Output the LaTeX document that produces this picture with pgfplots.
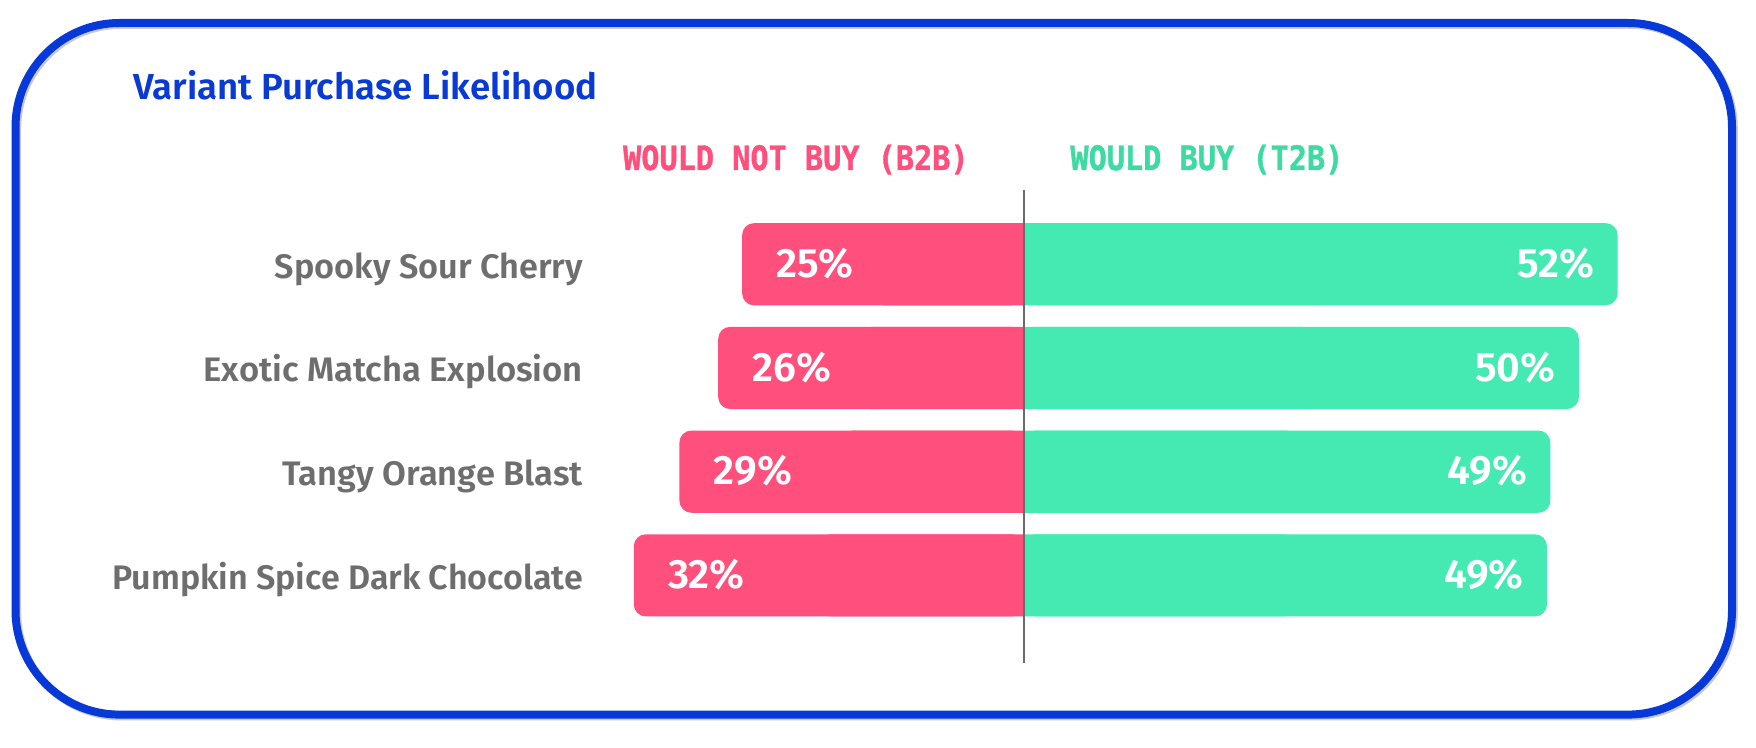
\documentclass[border=0pt]{standalone}
\usepackage{pgfplots}
\pgfplotsset{compat=1.18}
\usepackage{pgfplotstable}
\usepackage{graphicx}
\usepackage{fontspec}
\setmainfont{Fira Sans}
\newfontfamily\sbfont{Fira Sans SemiBold}
\newfontfamily\hdfont{DejaVu Sans Mono Bold}[FakeBold=1.2]

\definecolor{cardblue}{HTML}{0639D8}
\definecolor{titleblue}{HTML}{0A3AD4}
\definecolor{pinkbar}{HTML}{FF4F7C}
\definecolor{greenbar}{HTML}{45EAB3}
\definecolor{greentext}{HTML}{3DDBA2}
\definecolor{labelgray}{HTML}{6E6E6E}
\definecolor{linegray}{HTML}{6A6A6A}

% text squeezed or stretched to a given width, height kept
\newcommand\fitw[2]{\resizebox{#1}{\height}{#2}}

% bar lengths (11.4 px = 1 unit), printed labels beside
\pgfplotstableread{
idx nb    b    nbl bl
0   -24.7 52.1 25  52
1   -26.8 48.7 26  50
2   -30.2 46.2 29  49
3   -34.2 45.9 32  49
}\likely

\begin{document}
\begin{tikzpicture}
% card
\draw[black!60, opacity=0.35, line width=4pt, rounded corners=52pt]
  (8.6pt,-12.4pt) rectangle (866.9pt,-358.2pt);
\draw[cardblue, line width=4pt, rounded corners=52pt]
  (7.75pt,-11.5pt) rectangle (866pt,-357.3pt);

\node[anchor=base west, inner sep=0pt, text=titleblue] at (66.5pt,-50pt)
  {\fitw{232pt}{\sbfont\fontsize{18.1}{20}\selectfont Variant Purchase Likelihood}};
\node[anchor=base west, inner sep=0pt, text=pinkbar] at (311.35pt,-85pt)
  {\fitw{172.8pt}{\hdfont\fontsize{16.8}{18}\selectfont WOULD NOT BUY (B2B)}};
\node[anchor=base west, inner sep=0pt, text=greentext] at (535pt,-85pt)
  {\fitw{136.5pt}{\hdfont\fontsize{16.8}{18}\selectfont WOULD BUY (T2B)}};

\begin{axis}[
  at={(283.85pt,-106.2pt)}, anchor=north west,
  scale only axis, width=570pt, height=207.4pt,
  xmin=-40, xmax=60, ymin=-0.5, ymax=3.5,
  y dir=reverse, enlargelimits=false, clip=false,
  xbar, bar width=41.1pt, bar shift=0pt,
  axis line style={draw=none}, major tick length=0pt,
  xtick=\empty,
  ytick={0,1,2,3},
  yticklabels={
    {\fitw{154pt}{Spooky Sour Cherry}},
    {\fitw{189.6pt}{Exotic Matcha Explosion}},
    {\fitw{150.3pt}{Tangy Orange Blast}},
    {\fitw{235.3pt}{Pumpkin Spice Dark Chocolate}}},
  yticklabel style={font=\sbfont\fontsize{17}{19}\selectfont, text=labelgray,
    anchor=base east, inner sep=0pt, xshift=7.8pt, yshift=-7pt},
]
% square halves keep the inner ends of the bars straight
\addplot[draw=none, fill=pinkbar] table[x expr=\thisrow{nb}/2, y=idx] {\likely};
\addplot[draw=none, fill=greenbar] table[x expr=\thisrow{b}/2, y=idx] {\likely};

\addplot[draw=none, fill=pinkbar, rounded corners=6pt,
  point meta=explicit symbolic, nodes near coords={\pgfplotspointmeta\%},
  every node near coord/.append style={anchor=base west, xshift=17pt, yshift=-6.6pt,
    inner sep=0pt, text=white, font=\sbfont\fontsize{20.5}{22}\selectfont}]
  table[x=nb, y=idx, meta=nbl] {\likely};
\addplot[draw=none, fill=greenbar, rounded corners=6pt,
  point meta=explicit symbolic, nodes near coords={\pgfplotspointmeta\%},
  every node near coord/.append style={anchor=base east, xshift=-11.5pt, yshift=-6.6pt,
    inner sep=0pt, text=white, font=\sbfont\fontsize{20.5}{22}\selectfont}]
  table[x=b, y=idx, meta=bl] {\likely};

\draw[linegray, line width=1pt] (axis cs:0,-0.717) -- (axis cs:0,3.845);
\end{axis}

\pgfresetboundingbox
\path[use as bounding box] (0,0) rectangle (878pt,-374pt);
\end{tikzpicture}
\end{document}
